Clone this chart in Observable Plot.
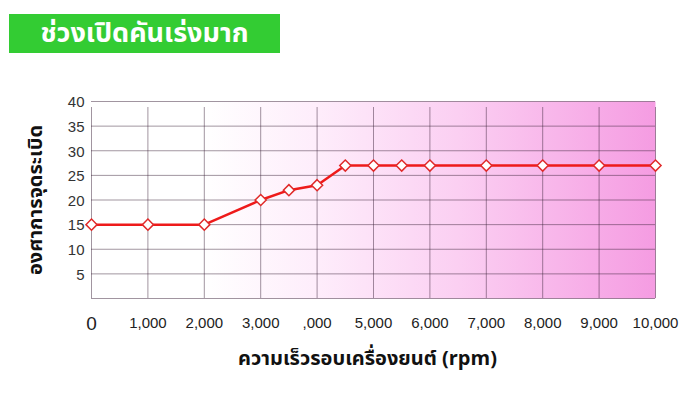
<!DOCTYPE html>
<html>
<head>
<meta charset="utf-8">
<script src="https://cdn.jsdelivr.net/npm/d3@7"></script>
<script src="https://cdn.jsdelivr.net/npm/@observablehq/plot@0.6"></script>
<style>
  html, body { margin: 0; padding: 0; background: #fff; }
  #wrap { position: relative; width: 697px; height: 401px; overflow: hidden; }
  #title {
    position: absolute; left: 9px; top: 14px; width: 271px; height: 39px;
    background: #33cc33; color: #fff; font: bold 27px "Noto Sans Thai", "Noto Sans", sans-serif;
    display: flex; align-items: center; justify-content: center; z-index: 2;
  }
  #chart { position: absolute; left: 0; top: 0; }
</style>
</head>
<body>
<div id="wrap">
  <div id="chart"></div>
  <div id="title">ช่วงเปิดคันเร่งมาก</div>
</div>
<script>
// Data
const rpm = [0, 1000, 2000, 3000, 3500, 4000, 4500, 5000, 5500, 6000, 7000, 8000, 9000, 10000];
const degrees = [15, 15, 15, 20, 22, 23, 27, 27, 27, 27, 27, 27, 27, 27];
const xTicks = [0, 1000, 2000, 3000, 4000, 5000, 6000, 7000, 8000, 9000, 10000];
const xTickLabels = ["0", "1,000", "2,000", "3,000", ",000", "5,000", "6,000", "7,000", "8,000", "9,000", "10,000"];
const yTicks = [0, 5, 10, 15, 20, 25, 30, 35, 40];
const yTickLabels = [5, 10, 15, 20, 25, 30, 35, 40];
const yLabel = "องศาการจุดระเบิด";
const xLabel = "ความเร็วรอบเครื่องยนต์ (rpm)";

const points = rpm.map((r, i) => ({rpm: r, deg: degrees[i]}));
const xTickData = xTicks.map((t, i) => ({t, label: xTickLabels[i], size: i === 0 ? 19 : 15}));

const thai = '"Noto Sans Thai", "Noto Sans", sans-serif';

function gradientDefs() {
  const defs = d3.create("svg:defs");
  const g = defs.append("linearGradient").attr("id", "pinkgrad")
    .attr("x1", "0").attr("x2", "1").attr("y1", "0").attr("y2", "0");
  g.append("stop").attr("offset", "0").attr("stop-color", "#ffffff");
  g.append("stop").attr("offset", "0.2").attr("stop-color", "#ffffff");
  g.append("stop").attr("offset", "0.4").attr("stop-color", "#feedfb");
  g.append("stop").attr("offset", "0.65").attr("stop-color", "#fbcff2");
  g.append("stop").attr("offset", "1").attr("stop-color", "#f59ce2");
  return defs.node();
}

const chart = Plot.plot({
  width: 697,
  height: 401,
  marginLeft: 91,
  marginRight: 42,
  marginTop: 101,
  marginBottom: 103,
  x: {domain: [0, 10000], axis: null},
  y: {domain: [0, 40], axis: null},
  style: {background: "transparent", fontFamily: "Liberation Sans, Arial, sans-serif"},
  marks: [
    gradientDefs,
    Plot.frame({fill: "url(#pinkgrad)", stroke: null}),
    Plot.ruleY(yTicks, {stroke: "#3a2238", strokeOpacity: 0.48, strokeWidth: 1}),
    Plot.ruleX(xTicks, {y1: 0, y2: 40, insetBottom: -6, stroke: "#3a2238", strokeOpacity: 0.48, strokeWidth: 1}),
    Plot.text(yTickLabels, {x: 0, y: d => d, text: d => String(d), dx: -7, dy: 1, textAnchor: "end", fontSize: 15, fill: "#333"}),
    Plot.text(xTickData, {x: "t", y: 0, text: "label", fontSize: "size", dy: 25, fill: "#222"}),
    Plot.text([yLabel], {frameAnchor: "left", dx: -56, rotate: -90, textAnchor: "middle", lineAnchor: "middle", text: d => d, fontSize: 20, fontWeight: "bold", fontFamily: thai, fill: "#111"}),
    Plot.text([xLabel], {frameAnchor: "bottom", dx: -6, dy: 60, textAnchor: "middle", lineAnchor: "middle", text: d => d, fontSize: 20, fontWeight: "bold", fontFamily: thai, fill: "#111"}),
    Plot.line(points, {x: "rpm", y: "deg", stroke: "#ee1a1a", strokeWidth: 2.5}),
    Plot.dot(points, {x: "rpm", y: "deg", symbol: "diamond2", r: 5, fill: "#fff", stroke: "#e02a2a", strokeWidth: 1.5})
  ]
});
document.getElementById("chart").appendChild(chart);
</script>
</body>
</html>
